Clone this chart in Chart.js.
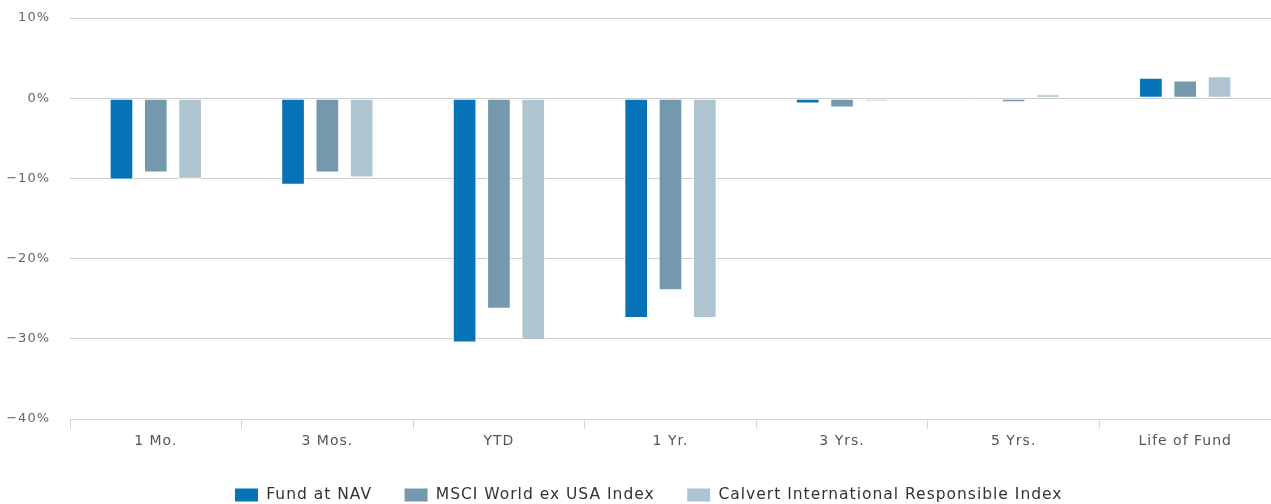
<!DOCTYPE html>
<html>
<head>
<meta charset="utf-8">
<script src="https://cdn.jsdelivr.net/npm/chart.js@4/dist/chart.umd.min.js"></script>
<style>
html,body{margin:0;padding:0;background:#fff;}
#wrap{position:relative;width:1271px;height:504px;}
</style>
</head>
<body>
<div id="wrap"><canvas id="c"></canvas></div>
<script>
const categories = ["1 Mo.", "3 Mos.", "YTD", "1 Yr.", "3 Yrs.", "5 Yrs.", "Life of Fund"];
const fundAtNav = [-10.15, -10.8, -30.45, -27.4, -0.65, -0.15, 2.55];
const msciWorldExUsa = [-9.25, -9.25, -26.25, -23.95, -1.15, -0.5, 2.2];
const calvertIntl = [-10.05, -9.9, -30.15, -27.4, -0.42, 0.5, 2.75];
const yTicks = [10, 0, -10, -20, -30, -40];
const seriesNames = ["Fund at NAV", "MSCI World ex USA Index", "Calvert International Responsible Index"];
const seriesColors = ["#0672b7", "#7499ad", "#aec5d1"];

const FONT = "'DejaVu Sans', sans-serif";
const LEG_FONT = 15.5, LEG_BOX_H = 14, LEG_PAD = 32;
const LEG_H = Math.max(LEG_FONT, LEG_BOX_H) + LEG_PAD + 10;
const AREA_TOP = 18, AREA_BOTTOM = 419, LEG_BOX_TOP = 488, LEG_SHIFT_X = 13;

const mk = (label, data, color) => ({
  label, data, backgroundColor: color, borderColor: "#ffffff", borderWidth: 1,
  borderSkipped: false, barPercentage: 0.69, categoryPercentage: 0.6
});

const spacing = {
  id: "spacing",
  beforeUpdate(chart) { chart.ctx.letterSpacing = "1px"; },
  beforeDraw(chart) { chart.ctx.letterSpacing = "1px"; },
  afterLayout(chart) {
    const lg = chart.legend;
    const target = LEG_BOX_TOP - Math.max((LEG_FONT - LEG_BOX_H) / 2, 0) - LEG_PAD;
    const d = target - lg.top;
    lg.top += d; lg.bottom += d;
    lg.left += LEG_SHIFT_X; lg.right += LEG_SHIFT_X;
  }
};

new Chart(document.getElementById("c"), {
  type: "bar",
  data: {
    labels: categories,
    datasets: [
      mk(seriesNames[0], fundAtNav, seriesColors[0]),
      mk(seriesNames[1], msciWorldExUsa, seriesColors[1]),
      mk(seriesNames[2], calvertIntl, seriesColors[2])
    ]
  },
  plugins: [spacing],
  options: {
    responsive: true,
    maintainAspectRatio: false,
    animation: false,
    layout: { padding: { top: AREA_TOP, right: 0, left: 0, bottom: 0 } },
    plugins: {
      tooltip: { enabled: false },
      legend: {
        position: "bottom",
        labels: {
          boxWidth: 24, boxHeight: LEG_BOX_H, padding: LEG_PAD,
          color: "#333333",
          font: { family: FONT, size: LEG_FONT }
        }
      }
    },
    scales: {
      x: {
        grid: { display: true, drawOnChartArea: false, offset: true, tickLength: 10, color: "#ccd6eb", tickColor: "#ccd6eb" },
        border: { display: true, color: "#ccd6eb", width: 1 },
        ticks: { color: "#555555", font: { family: FONT, size: 14 }, padding: 4, maxRotation: 0 },
        afterFit: (s) => { s.height = 504 - AREA_BOTTOM - LEG_H; }
      },
      y: {
        min: -40, max: 10,
        afterBuildTicks: (s) => { s.ticks = yTicks.map(v => ({ value: v })); },
        grid: { color: "#cccccc", drawTicks: false, lineWidth: 1 },
        border: { display: false },
        ticks: {
          color: "#666666", font: { family: FONT, size: 13 }, padding: 20,
          callback: (v) => (v < 0 ? "\u2212" + Math.abs(v) : v) + "%"
        },
        afterFit: (s) => { s.width = 70; s.paddingTop = 0; s.paddingBottom = 0; }
      }
    }
  }
});
</script>
</body>
</html>
